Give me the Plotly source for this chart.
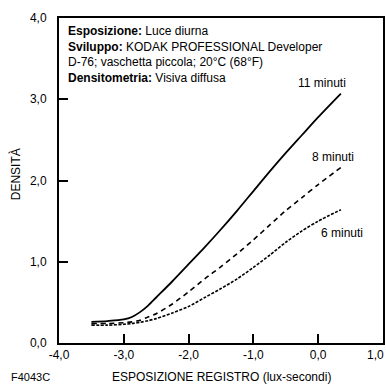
import plotly.graph_objects as go

# Data
x_vals = [-3.5, -3.25, -3.0, -2.875, -2.75, -2.625, -2.5, -2.25, -2.0, -1.75, -1.5, -1.25, -1.0, -0.75, -0.5, -0.25, 0.0, 0.35]
d_11min = [0.26, 0.27, 0.29, 0.32, 0.38, 0.46, 0.56, 0.76, 0.97, 1.18, 1.40, 1.63, 1.87, 2.11, 2.34, 2.56, 2.78, 3.07]
d_8min = [0.24, 0.24, 0.25, 0.26, 0.28, 0.32, 0.36, 0.48, 0.63, 0.79, 0.94, 1.10, 1.27, 1.45, 1.63, 1.79, 1.95, 2.16]
d_6min = [0.22, 0.22, 0.23, 0.24, 0.255, 0.275, 0.30, 0.37, 0.45, 0.56, 0.67, 0.79, 0.93, 1.08, 1.24, 1.38, 1.50, 1.64]

series_names = ["11 minuti", "8 minuti", "6 minuti"]
label_x = [0.06, 0.23, 0.37]
label_y = [3.20, 2.29, 1.35]

x_ticks = [-4, -3, -2, -1, 0, 1]
x_ticktext = ["-4,0", "-3,0", "-2,0", "-1,0", "0,0", "1,0"]
y_ticks = [0, 1, 2, 3, 4]
y_ticktext = ["0,0", "1,0", "2,0", "3,0", "4,0"]

FONT = "Liberation Sans, Arial, Helvetica, sans-serif"

fig = go.Figure()
styles = [dict(color="black", width=1.8, dash="solid"),
          dict(color="black", width=1.6, dash="5px,4px"),
          dict(color="black", width=1.6, dash="3px,1.5px")]
for name, ys, st in zip(series_names, [d_11min, d_8min, d_6min], styles):
    fig.add_trace(go.Scatter(x=x_vals, y=ys, mode="lines", name=name,
                             line=dict(shape="spline", smoothing=0.8, **st),
                             showlegend=False, hoverinfo="skip"))

for name, lx, ly in zip(series_names, label_x, label_y):
    fig.add_annotation(x=lx, y=ly, xref="x", yref="y", text=name, showarrow=False,
                       font=dict(size=12, color="black", family=FONT),
                       xanchor="center", yanchor="middle")

fig.add_annotation(
    x=-3.89, y=3.95, xref="x", yref="y", xanchor="left", yanchor="top", align="left",
    showarrow=False,
    text=("<b>Esposizione:</b> Luce diurna<br>"
          "<b>Sviluppo:</b> KODAK PROFESSIONAL Developer<br>"
          "D-76; vaschetta piccola; 20°C (68°F)<br>"
          "<b>Densitometria:</b> Visiva diffusa"),
    font=dict(size=12, color="black", family=FONT))

fig.add_annotation(x=0.5, y=-0.105, xref="paper", yref="paper", showarrow=False,
                   text="ESPOSIZIONE REGISTRO (lux-secondi)", xanchor="center", yanchor="middle",
                   font=dict(size=12, color="black", family=FONT))
fig.add_annotation(x=-0.088, y=-0.105, xref="paper", yref="paper", showarrow=False,
                   text="F4043C", xanchor="center", yanchor="middle",
                   font=dict(size=11, color="black", family=FONT))
fig.add_annotation(x=-0.135, y=0.52, xref="paper", yref="paper", showarrow=False,
                   text="DENSITÀ", textangle=-90, xanchor="center", yanchor="middle",
                   font=dict(size=12, color="black", family=FONT))

# Last x tick label placed so it stays inside the canvas
fig.add_annotation(x=1.009, y=-0.037, xref="paper", yref="paper", showarrow=False,
                   text=x_ticktext[-1], xanchor="right", yanchor="middle",
                   font=dict(size=12, color="black", family=FONT))
x_ticktext_axis = x_ticktext[:-1] + [""]

axis_common = dict(showgrid=False, zeroline=False, showline=True, linecolor="black",
                   linewidth=2, mirror=True, ticks="inside", ticklen=9, tickwidth=1.5,
                   tickcolor="black", tickfont=dict(size=12, color="black", family=FONT))

fig.update_xaxes(range=[-4, 1], tickvals=x_ticks, ticktext=x_ticktext_axis,
                 ticklabeloverflow="allow", **axis_common)
fig.update_yaxes(range=[0, 4], tickvals=y_ticks, ticktext=y_ticktext,
                 ticklabelstandoff=8, ticklabeloverflow="allow", **axis_common)

fig.update_layout(width=386, height=384, margin=dict(l=59, r=3, t=18, b=41, autoexpand=False),
                  plot_bgcolor="white", paper_bgcolor="white",
                  font=dict(family=FONT, color="black"))

fig.write_html("out.html", config={"displayModeBar": False},
               post_script="document.body.style.margin='0';")
